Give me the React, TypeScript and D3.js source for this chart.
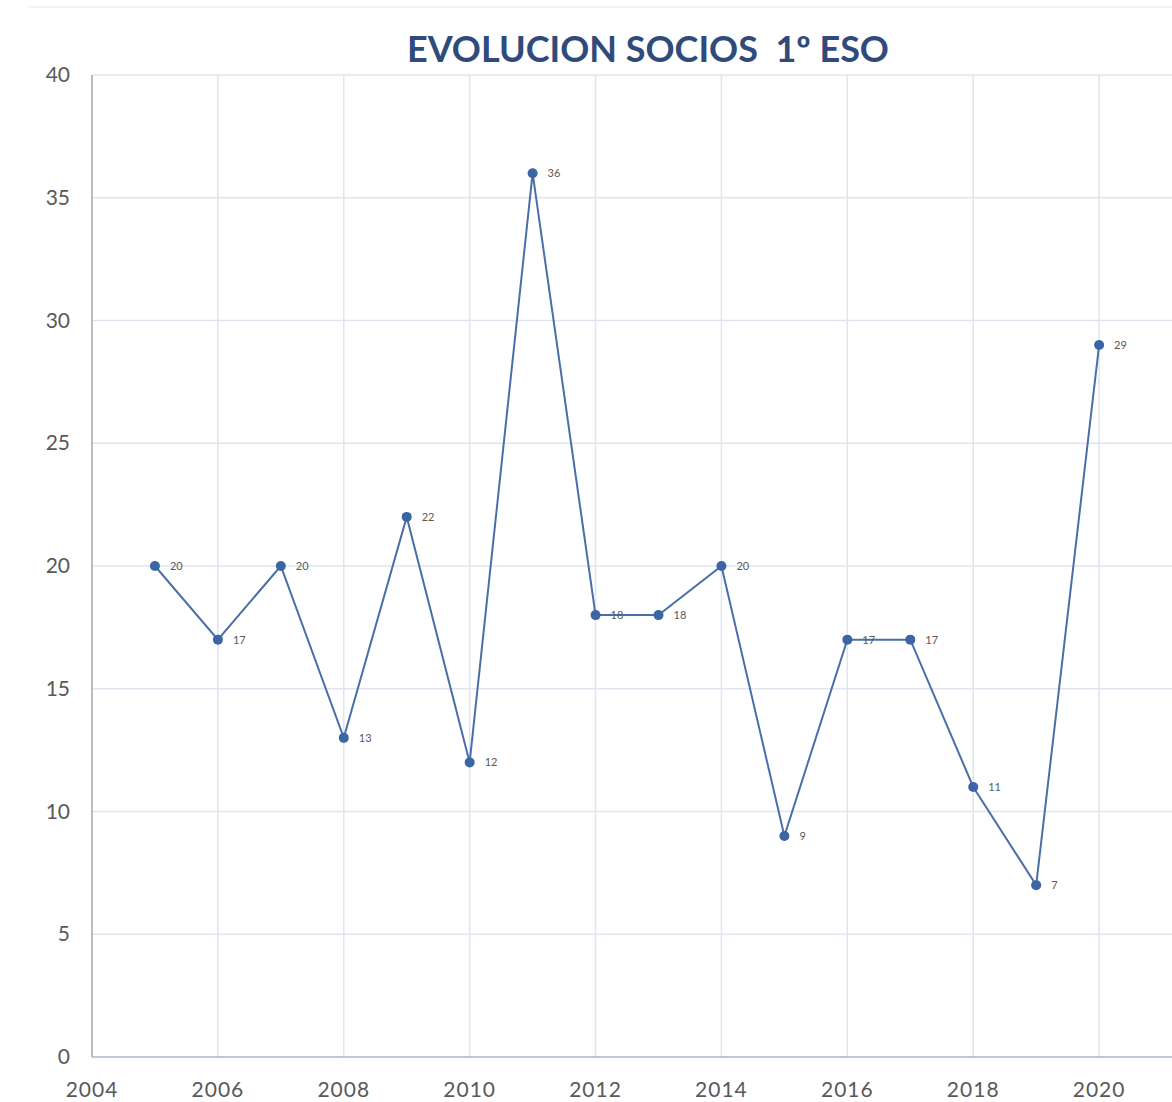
import React, { useEffect, useRef } from 'react';
import * as d3 from 'd3';

const years = [2005, 2006, 2007, 2008, 2009, 2010, 2011, 2012, 2013, 2014, 2015, 2016, 2017, 2018, 2019, 2020];
const socios = [20, 17, 20, 13, 22, 12, 36, 18, 18, 20, 9, 17, 17, 11, 7, 29];
const xTicks = [2004, 2006, 2008, 2010, 2012, 2014, 2016, 2018, 2020];
const yTicks = [0, 5, 10, 15, 20, 25, 30, 35, 40];
const title = 'EVOLUCION SOCIOS  1º ESO';

const W = 1172;
const H = 1102;

const App: React.FC = () => {
  const svgRef = useRef<SVGSVGElement>(null);

  useEffect(() => {
    if (!svgRef.current) return;
    const svg = d3.select(svgRef.current);
    svg.selectAll('*').remove();

    const x = d3.scaleLinear().domain([2004, 2022]).range([92, 1225]);
    const y = d3.scaleLinear().domain([0, 40]).range([1057, 75]);
    const font = "Lato, 'Open Sans', sans-serif";

    svg.append('rect').attr('width', W).attr('height', H).attr('fill', '#fff');

    // faint frame edge at the top
    svg.append('line')
      .attr('x1', 28).attr('x2', W).attr('y1', 7).attr('y2', 7)
      .attr('stroke', '#eef1f5').attr('stroke-width', 1.5);

    // grid
    svg.append('g')
      .selectAll('line')
      .data(yTicks.filter(d => d > 0))
      .join('line')
      .attr('x1', x(2004)).attr('x2', W)
      .attr('y1', d => y(d)).attr('y2', d => y(d))
      .attr('stroke', '#dfe5ee').attr('stroke-width', 1.5);

    svg.append('g')
      .selectAll('line')
      .data(xTicks.filter(d => d > 2004))
      .join('line')
      .attr('x1', d => x(d)).attr('x2', d => x(d))
      .attr('y1', y(40)).attr('y2', y(0))
      .attr('stroke', '#dfe5ee').attr('stroke-width', 1.5);

    // axes lines
    svg.append('line')
      .attr('x1', x(2004)).attr('x2', x(2004))
      .attr('y1', y(40)).attr('y2', y(0))
      .attr('stroke', '#a6a6a6').attr('stroke-width', 1.5);
    svg.append('line')
      .attr('x1', x(2004)).attr('x2', W)
      .attr('y1', y(0)).attr('y2', y(0))
      .attr('stroke', '#a9b6c8').attr('stroke-width', 1.5);

    // tick labels
    svg.append('g')
      .selectAll('text')
      .data(yTicks)
      .join('text')
      .attr('x', 70)
      .attr('y', d => y(d) + 7)
      .attr('text-anchor', 'end')
      .attr('font-family', font)
      .attr('font-size', 21)
      .attr('fill', '#595959')
      .text(d => d);

    svg.append('g')
      .selectAll('text')
      .data(xTicks)
      .join('text')
      .attr('x', d => x(d))
      .attr('y', 1097)
      .attr('text-anchor', 'middle')
      .attr('font-family', font)
      .attr('font-size', 21)
      .attr('letter-spacing', 1)
      .attr('fill', '#595959')
      .text(d => d);

    // title
    svg.append('text')
      .attr('x', 648)
      .attr('y', 62)
      .attr('text-anchor', 'middle')
      .attr('font-family', font)
      .attr('font-weight', 'bold')
      .attr('font-size', 36)
      .attr('fill', '#2f4b7c')
      .style('white-space', 'pre')
      .text(title);

    const pts = years.map((yr, i) => ({ yr, v: socios[i] }));

    const line = d3.line<{ yr: number; v: number }>()
      .x(d => x(d.yr))
      .y(d => y(d.v));

    svg.append('path')
      .datum(pts)
      .attr('d', line)
      .attr('fill', 'none')
      .attr('stroke', '#4a6fa8')
      .attr('stroke-width', 2);

    svg.append('g')
      .selectAll('circle')
      .data(pts)
      .join('circle')
      .attr('cx', d => x(d.yr))
      .attr('cy', d => y(d.v))
      .attr('r', 5)
      .attr('fill', '#3b65a5');

    svg.append('g')
      .selectAll('text')
      .data(pts)
      .join('text')
      .attr('x', d => x(d.yr) + 15)
      .attr('y', d => y(d.v) + 4)
      .attr('font-family', font)
      .attr('font-size', 11)
      .attr('fill', '#595959')
      .text(d => d.v);
  }, []);

  return (
    <svg
      ref={svgRef}
      width={W}
      height={H}
      style={{ position: 'absolute', left: 0, top: 0 }}
    />
  );
};

export default App;
